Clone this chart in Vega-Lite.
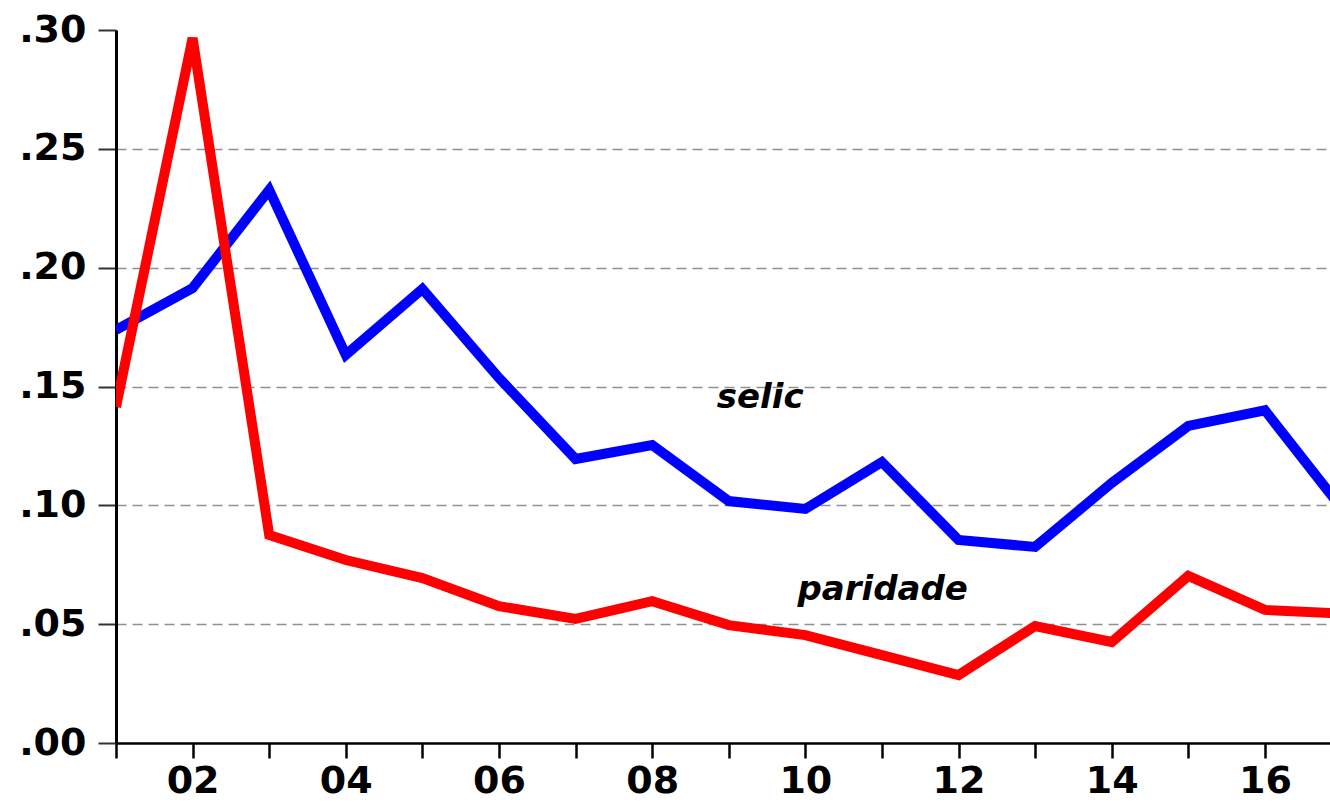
{
  "$schema": "https://vega.github.io/schema/vega-lite/v6.json",
  "autosize": {"type": "none"},
  "padding": {"left": 116, "top": 30, "right": 0, "bottom": 60},
  "width": 1214,
  "height": 713,
  "background": "white",
  "config": {"view": {"stroke": null}},
  "layer": [
    {
      "data": {"values": [
        {"year": 2001, "series": "selic", "value": 0.1738},
        {"year": 2002, "series": "selic", "value": 0.1914},
        {"year": 2003, "series": "selic", "value": 0.2327},
        {"year": 2004, "series": "selic", "value": 0.1633},
        {"year": 2005, "series": "selic", "value": 0.1910},
        {"year": 2006, "series": "selic", "value": 0.1536},
        {"year": 2007, "series": "selic", "value": 0.1195},
        {"year": 2008, "series": "selic", "value": 0.1254},
        {"year": 2009, "series": "selic", "value": 0.1018},
        {"year": 2010, "series": "selic", "value": 0.0985},
        {"year": 2011, "series": "selic", "value": 0.1182},
        {"year": 2012, "series": "selic", "value": 0.0854},
        {"year": 2013, "series": "selic", "value": 0.0825},
        {"year": 2014, "series": "selic", "value": 0.1094},
        {"year": 2015, "series": "selic", "value": 0.1334},
        {"year": 2016, "series": "selic", "value": 0.1400},
        {"year": 2017, "series": "selic", "value": 0.0989},
        {"year": 2001, "series": "paridade", "value": 0.1414},
        {"year": 2002, "series": "paridade", "value": 0.2966},
        {"year": 2003, "series": "paridade", "value": 0.0875},
        {"year": 2004, "series": "paridade", "value": 0.0770},
        {"year": 2005, "series": "paridade", "value": 0.0694},
        {"year": 2006, "series": "paridade", "value": 0.0576},
        {"year": 2007, "series": "paridade", "value": 0.0522},
        {"year": 2008, "series": "paridade", "value": 0.0597},
        {"year": 2009, "series": "paridade", "value": 0.0496},
        {"year": 2010, "series": "paridade", "value": 0.0454},
        {"year": 2011, "series": "paridade", "value": 0.0370},
        {"year": 2012, "series": "paridade", "value": 0.0286},
        {"year": 2013, "series": "paridade", "value": 0.0492},
        {"year": 2014, "series": "paridade", "value": 0.0425},
        {"year": 2015, "series": "paridade", "value": 0.0703},
        {"year": 2016, "series": "paridade", "value": 0.0560},
        {"year": 2017, "series": "paridade", "value": 0.0545}
      ]},
      "mark": {"type": "line", "strokeWidth": 10, "clip": true},
      "encoding": {
        "x": {
          "field": "year", "type": "quantitative",
          "scale": {"domain": [2001, 2016.85], "nice": false, "zero": false},
          "axis": {
            "title": null,
            "values": [2001,2002,2003,2004,2005,2006,2007,2008,2009,2010,2011,2012,2013,2014,2015,2016],
            "labelExpr": "datum.value % 2 == 0 ? substring(toString(datum.value), 2) : ''",
            "grid": false,
            "domainColor": "black",
            "domainWidth": 2.5,
            "tickColor": "black",
            "tickWidth": 2.5,
            "tickSize": 15,
            "labelPadding": 4,
            "labelFont": "DejaVu Sans",
            "labelFontWeight": "bold",
            "labelFontSize": 38,
            "labelColor": "black",
            "labelFlush": false,
            "labelOverlap": false
          }
        },
        "y": {
          "field": "value", "type": "quantitative",
          "scale": {"domain": [0, 0.30], "nice": false},
          "axis": {
            "title": null,
            "values": [0, 0.05, 0.10, 0.15, 0.20, 0.25, 0.30],
            "labelExpr": "replace(format(datum.value, '.2f'), '0.', '.')",
            "grid": true,
            "gridDash": [10, 6],
            "gridWidth": 1.5,
            "gridColor": {"condition": {"test": "datum.value >= 0.29 || datum.value <= 0.01", "value": "transparent"}, "value": "#909090"},
            "domainColor": "black",
            "domainWidth": 3,
            "tickColor": "#333333",
            "tickWidth": 2,
            "tickSize": 18,
            "labelPadding": 12,
            "labelFont": "DejaVu Sans",
            "labelFontWeight": "bold",
            "labelFontSize": 38,
            "labelColor": "black",
            "labelFlush": false,
            "labelOverlap": false
          }
        },
        "color": {
          "field": "series", "type": "nominal",
          "scale": {"domain": ["selic", "paridade"], "range": ["#0000ff", "#ff0000"]},
          "legend": null
        }
      }
    },
    {
      "data": {"values": [
        {"label": "selic", "year": 2009.41, "value": 0.1452},
        {"label": "paridade", "year": 2011.01, "value": 0.0644}
      ]},
      "mark": {"type": "text", "font": "DejaVu Sans", "fontWeight": "bold", "fontStyle": "italic", "fontSize": 34, "color": "black", "align": "center", "baseline": "middle"},
      "encoding": {
        "x": {"field": "year", "type": "quantitative"},
        "y": {"field": "value", "type": "quantitative"},
        "text": {"field": "label"}
      }
    }
  ]
}
